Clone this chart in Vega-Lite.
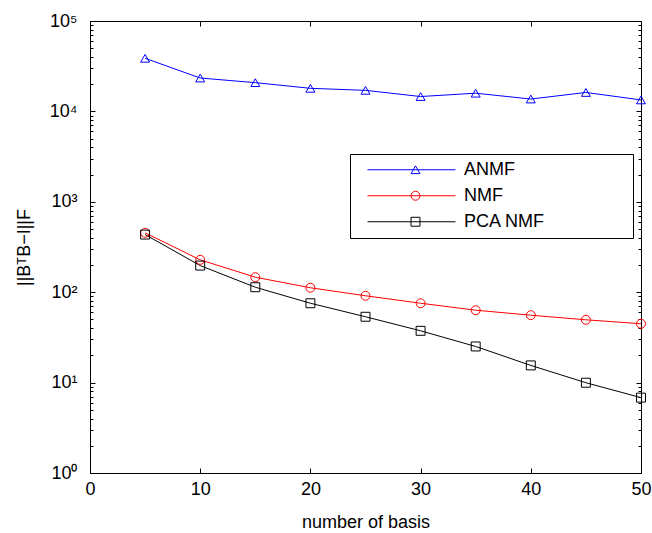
{
  "$schema": "https://vega.github.io/schema/vega-lite/v6.json",
  "width": 551,
  "height": 452,
  "autosize": {"type": "none"},
  "padding": {"left": 90, "top": 21, "right": 11, "bottom": 60},
  "background": "white",
  "config": {
    "font": "Liberation Sans",
    "view": {"stroke": "black", "strokeWidth": 1},
    "axis": {
      "labelFont": "Liberation Sans",
      "titleFont": "Liberation Sans",
      "labelColor": "black",
      "titleColor": "black",
      "tickColor": "black",
      "tickWidth": 1,
      "domain": false,
      "grid": false,
      "labelFontSize": 18,
      "titleFontSize": 18,
      "titleFontWeight": "normal",
      "labelFlush": false
    },
    "legend": {
      "labelFont": "Liberation Sans",
      "labelFontSize": 18,
      "labelColor": "black"
    }
  },
  "data": {
    "values": [
      {"basis": 5, "error": 38700, "method": "ANMF"},
      {"basis": 10, "error": 23400, "method": "ANMF"},
      {"basis": 15, "error": 20800, "method": "ANMF"},
      {"basis": 20, "error": 18000, "method": "ANMF"},
      {"basis": 25, "error": 17100, "method": "ANMF"},
      {"basis": 30, "error": 14600, "method": "ANMF"},
      {"basis": 35, "error": 15900, "method": "ANMF"},
      {"basis": 40, "error": 13700, "method": "ANMF"},
      {"basis": 45, "error": 16200, "method": "ANMF"},
      {"basis": 50, "error": 13400, "method": "ANMF"},
      {"basis": 5, "error": 454, "method": "NMF"},
      {"basis": 10, "error": 228, "method": "NMF"},
      {"basis": 15, "error": 146.5, "method": "NMF"},
      {"basis": 20, "error": 112, "method": "NMF"},
      {"basis": 25, "error": 91.3, "method": "NMF"},
      {"basis": 30, "error": 75.5, "method": "NMF"},
      {"basis": 35, "error": 63.2, "method": "NMF"},
      {"basis": 40, "error": 55.7, "method": "NMF"},
      {"basis": 45, "error": 49.5, "method": "NMF"},
      {"basis": 50, "error": 44.8, "method": "NMF"},
      {"basis": 5, "error": 434, "method": "PCA NMF"},
      {"basis": 10, "error": 197, "method": "PCA NMF"},
      {"basis": 15, "error": 113.5, "method": "PCA NMF"},
      {"basis": 20, "error": 75.5, "method": "PCA NMF"},
      {"basis": 25, "error": 53.5, "method": "PCA NMF"},
      {"basis": 30, "error": 37.4, "method": "PCA NMF"},
      {"basis": 35, "error": 25.1, "method": "PCA NMF"},
      {"basis": 40, "error": 15.5, "method": "PCA NMF"},
      {"basis": 45, "error": 9.97, "method": "PCA NMF"},
      {"basis": 50, "error": 6.82, "method": "PCA NMF"}
    ]
  },
  "layer": [
    {
      "mark": {"type": "line", "strokeWidth": 1},
      "encoding": {
        "x": {
          "field": "basis", "type": "quantitative",
          "scale": {"domain": [0, 50], "nice": false, "zero": false},
          "axis": {
            "orient": "bottom",
            "values": [0, 10, 20, 30, 40, 50],
            "tickSize": -5,
            "labelPadding": 12,
            "title": "number of basis",
            "titlePadding": 15
          }
        },
        "y": {
          "field": "error", "type": "quantitative",
          "scale": {"type": "log", "domain": [1, 100000], "nice": false},
          "axis": {
            "orient": "left",
            "values": [1,2,3,4,5,6,7,8,9,10,20,30,40,50,60,70,80,90,100,200,300,400,500,600,700,800,900,1000,2000,3000,4000,5000,6000,7000,8000,9000,10000,20000,30000,40000,50000,60000,70000,80000,90000,100000],
            "labelExpr": "indexof([1,10,100,1000,10000,100000], datum.value) >= 0 ? '10' + ['⁰','¹','²','³','⁴','⁵'][round(log(datum.value)/LN10)] : ''",
            "labelOverlap": false,
            "tickSize": {"condition": {"test": "indexof([1,10,100,1000,10000,100000], datum.value) >= 0", "value": -5}, "value": -3},
            "labelPadding": 18,
            "title": "||BᵀB−I||F",
            "titlePadding": 16
          }
        },
        "color": {
          "field": "method", "type": "nominal",
          "scale": {"domain": ["ANMF", "NMF", "PCA NMF"], "range": ["#0000ff", "#ff0000", "#000000"]},
          "legend": {
            "title": null,
            "orient": "none",
            "legendX": 260,
            "legendY": 133,
            "padding": 3,
            "symbolType": "stroke",
            "symbolSize": 7744,
            "symbolStrokeWidth": 1,
            "symbolOffset": 14,
            "labelOffset": 8,
            "clipHeight": 25.5,
            "rowPadding": 0,
            "labelLimit": 400
          }
        }
      }
    },
    {
      "mark": {"type": "point", "filled": false, "size": 80, "strokeWidth": 1, "opacity": 1},
      "encoding": {
        "x": {
          "field": "basis", "type": "quantitative",
          "scale": {"domain": [0, 50], "nice": false, "zero": false},
          "axis": {
            "orient": "top",
            "values": [0, 10, 20, 30, 40, 50],
            "tickSize": -5,
            "labels": false,
            "title": null
          }
        },
        "y": {
          "field": "error", "type": "quantitative",
          "scale": {"type": "log", "domain": [1, 100000], "nice": false},
          "axis": {
            "orient": "right",
            "values": [1,2,3,4,5,6,7,8,9,10,20,30,40,50,60,70,80,90,100,200,300,400,500,600,700,800,900,1000,2000,3000,4000,5000,6000,7000,8000,9000,10000,20000,30000,40000,50000,60000,70000,80000,90000,100000],
            "labels": false,
            "tickSize": {"condition": {"test": "indexof([1,10,100,1000,10000,100000], datum.value) >= 0", "value": -5}, "value": -3},
            "title": null
          }
        },
        "color": {
          "field": "method", "type": "nominal",
          "scale": {"range": ["#0000ff", "#ff0000", "#000000"]},
          "legend": {
            "title": null,
            "orient": "none",
            "legendX": 260,
            "legendY": 133,
            "padding": 3,
            "strokeColor": "black",
            "symbolSize": 80,
            "symbolStrokeWidth": 1,
            "symbolOffset": 53.5,
            "labelOffset": 124.5,
            "clipHeight": 25.5,
            "rowPadding": 0,
            "labelLimit": 400,
            "labelOpacity": 0
          }
        },
        "shape": {
          "field": "method", "type": "nominal",
          "scale": {"range": ["triangle-up", "circle", "square"]},
          "legend": {
            "title": null,
            "orient": "none",
            "legendX": 260,
            "legendY": 133,
            "padding": 3,
            "strokeColor": "black",
            "symbolSize": 80,
            "symbolStrokeWidth": 1,
            "symbolOffset": 53.5,
            "labelOffset": 124.5,
            "clipHeight": 25.5,
            "rowPadding": 0,
            "labelLimit": 400,
            "labelOpacity": 0
          }
        }
      }
    }
  ],
  "resolve": {"axis": {"x": "independent", "y": "independent"}, "scale": {"color": "independent", "shape": "independent"}}
}
